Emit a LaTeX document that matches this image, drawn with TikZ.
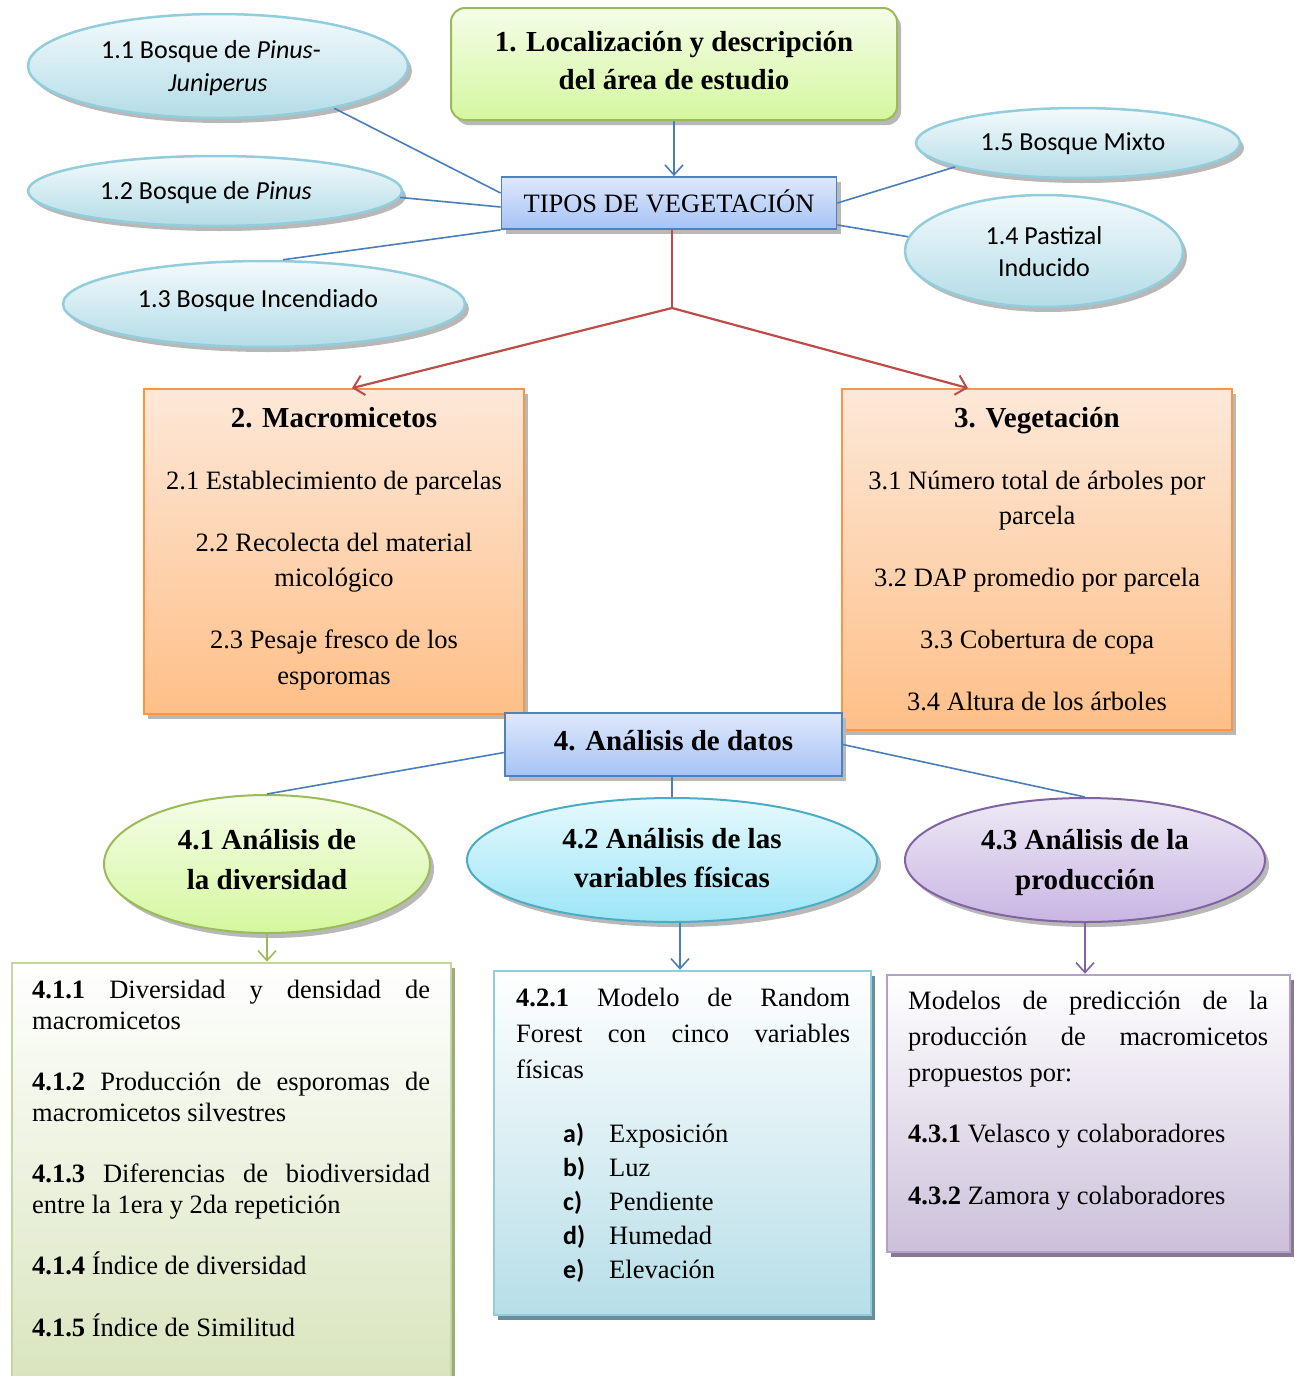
\documentclass[tikz,border=0pt]{standalone}
\usepackage{fontspec}
\setmainfont{Liberation Serif}[BoldFont={Liberation Serif Bold},ItalicFont={Liberation Serif Italic},BoldItalicFont={Liberation Serif Bold Italic}]
\newfontfamily\calfont{Carlito}[BoldFont={Carlito Bold},ItalicFont={Carlito Italic}]
\usetikzlibrary{shapes.geometric,shadows,arrows.meta}
\definecolor{elB}{HTML}{92CDDC}
\definecolor{elT}{HTML}{F3FAFC}
\definecolor{elBot}{HTML}{B4DCE7}
\definecolor{lnB}{HTML}{4A7EBB}
\definecolor{lnR}{HTML}{BE4B48}
\definecolor{grB}{HTML}{9BBB59}
\definecolor{grT}{HTML}{F5FDE8}
\definecolor{grBot}{HTML}{D5F79F}
\definecolor{bxB}{HTML}{4F81BD}
\definecolor{bxT}{HTML}{DFE8FC}
\definecolor{bxBot}{HTML}{A6C3F6}
\definecolor{orB}{HTML}{F79646}
\definecolor{orT}{HTML}{FDE8D8}
\definecolor{orBot}{HTML}{FEBF88}
\definecolor{cyB}{HTML}{4BACC6}
\definecolor{cyT}{HTML}{E6F9FD}
\definecolor{cyBot}{HTML}{9CE5F7}
\definecolor{puB}{HTML}{8064A2}
\definecolor{puT}{HTML}{EEE9F5}
\definecolor{puBot}{HTML}{C9B6E3}
\definecolor{g4B}{HTML}{C3D69B}
\definecolor{g4Bot}{HTML}{D8E4BC}
\definecolor{c4B}{HTML}{92CDDC}
\definecolor{c4Bot}{HTML}{B7DEE8}
\definecolor{p4B}{HTML}{B3A2C7}
\definecolor{p4Bot}{HTML}{CCC0DA}
\newcommand\frg{\fontsize{26.5}{32}\selectfont}
\newcommand\fbd{\fontsize{29}{35}\selectfont\bfseries}
\newcommand\fcal{\calfont\fontsize{26}{31}\selectfont}
\begin{document}
\begin{tikzpicture}[x=1pt,y=-1pt,
  sh/.style={drop shadow={shadow xshift=4pt,shadow yshift=-5pt,fill=black!28,opacity=1}},
  ell1/.style={ellipse,draw=elB,line width=2.5pt,top color=elT,bottom color=elBot,sh,inner sep=0pt},
  txt/.style={inner sep=0pt,anchor=base,font=\frg},
  ttl/.style={inner sep=0pt,anchor=base,font=\fbd},
  ctx/.style={inner sep=0pt,anchor=base,font=\fcal},
  txl/.style={inner sep=0pt,anchor=base west,font=\frg},
  bl/.style={draw=lnB,line width=1.6pt},
  barb/.style={-{Straight Barb[length=10pt,width=18pt,line width=1.6pt]}},
]
\clip (0,0) rectangle (1295,1376);
\fill[white] (0,0) rectangle (1295,1376);

% ---------- top ----------
\node[rectangle,rounded corners=14pt,draw=grB,line width=2pt,top color=grT,bottom color=grBot,sh,
  minimum width=446pt,minimum height=112pt] (box1) at (674,64) {};
\node[ttl] (b1a) at (674,51) {1. Localización y descripción};
\node[ttl] (b1b) at (674,89) {del área de estudio};

\node[rectangle,draw=bxB,line width=1.8pt,top color=bxT,bottom color=bxBot,sh,
  minimum width=335pt,minimum height=52pt] (tipos) at (669,203) {};
\node[txt] (tipt) at (669,212) {TIPOS DE VEGETACIÓN};

\node[ell1,minimum width=380pt,minimum height=104pt] (e11) at (218,66) {};
\node[ctx] (e11a) at (211,58) {1.1 Bosque de \textit{Pinus}-};
\node[ctx] (e11b) at (218,91) {\textit{Juniperus}};
\node[ell1,minimum width=374pt,minimum height=70pt] (e12) at (215,191) {};
\node[ctx] (e12a) at (206,199) {1.2 Bosque de \textit{Pinus}};
\node[ell1,minimum width=402pt,minimum height=86pt] (e13) at (264,304) {};
\node[ctx] (e13a) at (258,307) {1.3 Bosque Incendiado};
\node[ell1,minimum width=324pt,minimum height=70pt] (e15) at (1078,143) {};
\node[ctx] (e15a) at (1073,150) {1.5 Bosque Mixto};
\node[ell1,minimum width=278pt,minimum height=112pt] (e14) at (1044,251) {};
\node[ctx] (e14a) at (1044,244) {1.4 Pastizal};
\node[ctx] (e14b) at (1044,276) {Inducido};

\draw[bl,barb] (box1.south) -- (box1.south |- tipos.north);
\draw[bl] ([yshift=10pt]tipos.west) -- (e11.-20);
\draw[bl] ([yshift=-4pt]tipos.west) -- (e12.-2);
\draw[bl] (tipos.south west) -- ([xshift=19pt]e13.north);
\draw[bl] (tipos.east) -- (e15.191);
\draw[bl] ([yshift=-22pt]tipos.east) -- (e14.174);

% ---------- boxes 2 & 3 ----------
\node[rectangle,draw=orB,line width=1.8pt,top color=orT,bottom color=orBot,sh,
  minimum width=380pt,minimum height=325pt] (box2) at (334,551.5) {};
\node[rectangle,draw=orB,line width=1.8pt,top color=orT,bottom color=orBot,sh,
  minimum width=390pt,minimum height=341pt] (box3) at (1037,559.5) {};

\coordinate (jn) at (672,308);
\draw[draw=lnR,line width=2.2pt] (jn |- tipos.south) -- (jn);
\draw[draw=lnR,line width=2.2pt,-{Straight Barb[length=10pt,width=20pt,line width=2pt]}] (jn) -- ([xshift=18pt]box2.north);
\draw[draw=lnR,line width=2.2pt,-{Straight Barb[length=10pt,width=20pt,line width=2pt]}] (jn) -- ([xshift=-69pt]box3.north);

\node[ttl] (b2t) at (334,427) {2. Macromicetos};
\node[txt] (b2a) at (334,489) {2.1 Establecimiento de parcelas};
\node[txt] (b2b) at (334,551) {2.2 Recolecta del material};
\node[txt] (b2c) at (334,586) {micológico};
\node[txt] (b2d) at (334,648) {2.3 Pesaje fresco de los};
\node[txt] (b2e) at (334,684) {esporomas};

\node[ttl] (b3t) at (1037,427) {3. Vegetación};
\node[txt] (b3a) at (1037,489) {3.1 Número total de árboles por};
\node[txt] (b3b) at (1037,524) {parcela};
\node[txt] (b3c) at (1037,586) {3.2 DAP promedio por parcela};
\node[txt] (b3d) at (1037,648) {3.3 Cobertura de copa};
\node[txt] (b3e) at (1037,710) {3.4 Altura de los árboles};

% ---------- box 4 ----------
\node[rectangle,draw=bxB,line width=1.8pt,top color=bxT,bottom color=bxBot,sh,
  minimum width=337pt,minimum height=63pt] (box4) at (673.5,744.5) {};
\node[ttl] (b4t) at (673.5,750) {4. Análisis de datos};

\node[ellipse,draw=grB,line width=2pt,top color=grT,bottom color=grBot,sh,inner sep=0pt,
  minimum width=326pt,minimum height=138pt] (e41) at (267,864) {};
\node[ttl] (e41a) at (267,849) {4.1 Análisis de};
\node[ttl] (e41b) at (267,889) {la diversidad};
\node[ellipse,draw=cyB,line width=2pt,top color=cyT,bottom color=cyBot,sh,inner sep=0pt,
  minimum width=410pt,minimum height=124pt] (e42) at (672,860) {};
\node[ttl] (e42a) at (672,848) {4.2 Análisis de las};
\node[ttl] (e42b) at (672,887) {variables físicas};
\node[ellipse,draw=puB,line width=2pt,top color=puT,bottom color=puBot,sh,inner sep=0pt,
  minimum width=360pt,minimum height=124pt] (e43) at (1085,860) {};
\node[ttl] (e43a) at (1085,849) {4.3 Análisis de la};
\node[ttl] (e43b) at (1085,889) {producción};

\draw[bl] ([yshift=-8pt]box4.west) -- (e41.north);
\draw[bl] (e42.north |- box4.south) -- (e42.north);
\draw[bl] (box4.east) -- (e43.north);

% ---------- bottom boxes ----------
\node[rectangle,draw=g4B,line width=2.5pt,top color=white,bottom color=g4Bot,
  drop shadow={shadow xshift=4pt,shadow yshift=-5pt,fill=g4B!80!black,opacity=1},
  minimum width=439pt,minimum height=430pt] (box41) at (231.5,1178) {};
\node[rectangle,draw=c4B,line width=2.5pt,top color=white,bottom color=c4Bot,
  drop shadow={shadow xshift=4pt,shadow yshift=-5pt,fill=c4B!70!black,opacity=1},
  minimum width=377pt,minimum height=344pt] (box42) at (682.5,1143) {};
\node[rectangle,draw=p4B,line width=2.5pt,top color=white,bottom color=p4Bot,
  drop shadow={shadow xshift=4pt,shadow yshift=-5pt,fill=p4B!75!black,opacity=1},
  minimum width=403pt,minimum height=277pt] (box43) at (1088.5,1113.5) {};

\draw[draw=grB,line width=1.6pt,-{Straight Barb[length=10pt,width=18pt,line width=1.6pt]}]
  (e41.south) -- (e41.south |- box41.north);
\draw[bl,barb] ([xshift=8pt]e42.south) -- ([xshift=8pt]e42.south |- box42.north);
\draw[draw=puB,line width=1.6pt,-{Straight Barb[length=10pt,width=18pt,line width=1.6pt]}]
  (e43.south) -- (e43.south |- box43.north);

% box 4.1 text
\node[txl] (l1) at (32,998) {\makebox[398pt][s]{\textbf{4.1.1} Diversidad y densidad de}};
\node[txl] (l2) at (32,1029) {macromicetos};
\node[txl] (l3) at (32,1090) {\makebox[398pt][s]{\textbf{4.1.2} Producción de esporomas de}};
\node[txl] (l4) at (32,1121) {macromicetos silvestres};
\node[txl] (l5) at (32,1182) {\makebox[398pt][s]{\textbf{4.1.3} Diferencias de biodiversidad}};
\node[txl] (l6) at (32,1213) {entre la 1era y 2da repetición};
\node[txl] (l7) at (32,1274) {\textbf{4.1.4} Índice de diversidad};
\node[txl] (l8) at (32,1336) {\textbf{4.1.5} Índice de Similitud};

% box 4.2 text
\node[txl] (m1) at (516,1006) {\makebox[334pt][s]{\textbf{4.2.1} Modelo de Random}};
\node[txl] (m2) at (516,1042) {\makebox[334pt][s]{Forest con cinco variables}};
\node[txl] (m3) at (516,1078) {físicas};
\node[inner sep=0pt,anchor=base west,font=\fcal\bfseries] (ma) at (563,1142) {a)};
\node[inner sep=0pt,anchor=base west,font=\fcal\bfseries] (mb) at (563,1176) {b)};
\node[inner sep=0pt,anchor=base west,font=\fcal\bfseries] (mc) at (563,1210) {c)};
\node[inner sep=0pt,anchor=base west,font=\fcal\bfseries] (md) at (563,1244) {d)};
\node[inner sep=0pt,anchor=base west,font=\fcal\bfseries] (me) at (563,1278) {e)};
\node[txl] (ta) at (609,1142) {Exposición};
\node[txl] (tb) at (609,1176) {Luz};
\node[txl] (tc) at (609,1210) {Pendiente};
\node[txl] (td) at (609,1244) {Humedad};
\node[txl] (te) at (609,1278) {Elevación};

% box 4.3 text
\node[txl] (n1) at (908,1009) {\makebox[360pt][s]{Modelos de predicción de la}};
\node[txl] (n2) at (908,1045) {\makebox[360pt][s]{producción de macromicetos}};
\node[txl] (n3) at (908,1081) {propuestos por:};
\node[txl] (n4) at (908,1142) {\textbf{4.3.1} Velasco y colaboradores};
\node[txl] (n5) at (908,1204) {\textbf{4.3.2} Zamora y colaboradores};
\end{tikzpicture}
\end{document}
